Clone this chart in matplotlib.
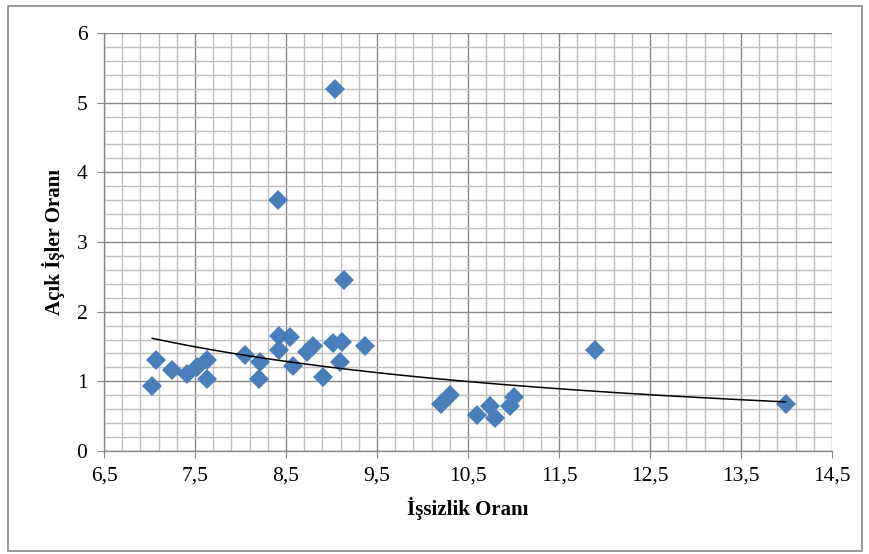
import numpy as np
import matplotlib
matplotlib.use("Agg")
import matplotlib.pyplot as plt
from matplotlib.ticker import FixedLocator, FuncFormatter
from matplotlib.patches import Rectangle

# data
issizlik = [7.03, 7.07, 7.25, 7.41, 7.52, 7.63, 7.63, 8.05, 8.20, 8.21, 8.41, 8.42, 8.42,
            8.54, 8.58, 8.73, 8.80, 8.91, 9.02, 9.04, 9.09, 9.11, 9.14, 9.37, 10.20, 10.30,
            10.60, 10.74, 10.80, 10.96, 11.00, 11.90, 13.99]
acik_isler = [0.94, 1.30, 1.16, 1.10, 1.21, 1.31, 1.03, 1.38, 1.03, 1.28, 3.60, 1.65, 1.45,
              1.63, 1.22, 1.42, 1.51, 1.06, 1.55, 5.19, 1.28, 1.57, 2.45, 1.51, 0.68, 0.80,
              0.52, 0.65, 0.48, 0.64, 0.78, 1.45, 0.67]

x_label = "İşsizlik Oranı"
y_label = "Açık İşler Oranı"

plt.rcParams['font.family'] = ['Liberation Serif', 'DejaVu Serif']

fig = plt.figure(figsize=(8.69, 5.54), dpi=100)
ax = fig.add_axes([104/869, 1-451/554, (832-104)/869, (451-33)/554])

x = np.array(issizlik)
y = np.array(acik_isler)
ax.plot(x, y, linestyle='none', marker='D', markersize=10.3, color='#4A7EBB',
        markeredgewidth=0, zorder=3)

# power trend line (like Excel's)
b, lna = np.polyfit(np.log(x), np.log(y), 1)
xt = np.linspace(x.min(), x.max(), 200)
ax.plot(xt, np.exp(lna) * xt**b, color='black', lw=1.1, zorder=4)

ax.set_xlim(6.5, 14.5)
ax.set_ylim(0, 6)
ax.xaxis.set_major_locator(FixedLocator(np.arange(6.5, 14.51, 1)))
ax.xaxis.set_minor_locator(FixedLocator(np.arange(6.5, 14.51, 0.2)))
ax.yaxis.set_major_locator(FixedLocator(np.arange(0, 6.01, 1)))
ax.yaxis.set_minor_locator(FixedLocator(np.arange(0, 6.01, 0.2)))
ax.xaxis.set_major_formatter(FuncFormatter(lambda v, p: f"{v:.1f}".replace('.', ',')))
ax.yaxis.set_major_formatter(FuncFormatter(lambda v, p: f"{v:.0f}"))

ax.grid(which='minor', color='#BFBFBF', lw=1.0, zorder=0)
ax.grid(which='major', color='#878787', lw=1.0, zorder=1)
ax.set_axisbelow(True)
for s in ['top', 'right']:
    ax.spines[s].set_visible(False)
for s in ['left', 'bottom']:
    ax.spines[s].set_color('#878787')
    ax.spines[s].set_linewidth(1.0)
ax.tick_params(which='major', length=5, color='#878787', labelsize=15.5)
ax.tick_params(axis='x', pad=6)
ax.tick_params(axis='y', pad=7)
ax.tick_params(which='minor', length=0)

ax.set_xlabel(x_label, fontsize=15, fontweight='bold')
ax.set_ylabel(y_label, fontsize=15, fontweight='bold')
ax.xaxis.set_label_coords(0.5, (451-508)/418)
ax.yaxis.set_label_coords((54-104)/728, 0.5)
ax.xaxis.label.set_va('center')
ax.yaxis.label.set_va('center')

fig.patches.append(Rectangle((8/869, 1-551/554), (862-8)/869, (551-6)/554,
                             transform=fig.transFigure, fill=False,
                             edgecolor='#878787', lw=1.2))

fig.savefig("out.png", dpi=100)
